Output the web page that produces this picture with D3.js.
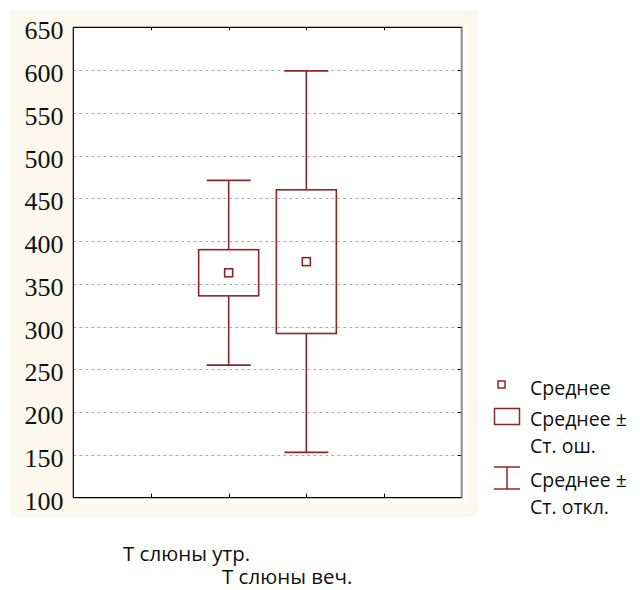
<!DOCTYPE html>
<html><head><meta charset="utf-8">
<script src="https://cdn.jsdelivr.net/npm/d3@7"></script>
<style>html,body{margin:0;padding:0;background:#fff;}svg{display:block;}</style>
</head><body>
<svg id="c" width="640" height="590"></svg>
<script>
const categories = ["Т слюны утр.", "Т слюны веч."];
const means = [363, 376];
const stdErrors = [27, 84];
const stdDevs = [108, 223];
const yTicks = [100, 150, 200, 250, 300, 350, 400, 450, 500, 550, 600, 650];
const legendLabels = [["Среднее"], ["Среднее ±", "Ст. ош."], ["Среднее ±", "Ст. откл."]];

const svg = d3.select("#c");
const red = "#8b2626";
const L = 73.3, R = 461.7, T = 27.3, B = 497.7;

svg.append("rect").attr("x", 10).attr("y", 10).attr("width", 468).attr("height", 507).attr("fill", "#fdf8ee");
svg.append("rect").attr("x", L).attr("y", T).attr("width", R - L + 6).attr("height", B - T + 5).attr("fill", "#fff");

const y = d3.scaleLinear().domain([100, 650]).range([B, T]);
const x = d3.scaleLinear().domain([0, 5]).range([L, R]);
const xPos = i => x(i + 2);

const inner = yTicks.filter(d => d > 100 && d < 650);
svg.append("g").selectAll("line").data(inner).join("line")
  .attr("x1", L).attr("x2", R).attr("y1", d => Math.round(y(d)) + 0.5).attr("y2", d => Math.round(y(d)) + 0.5)
  .attr("stroke", "#aaa").attr("stroke-dasharray", "3,3").attr("stroke-width", 1);

svg.append("g").selectAll("line").data(inner).join("line")
  .attr("x1", R - 4).attr("x2", R).attr("y1", d => Math.round(y(d)) + 0.5).attr("y2", d => Math.round(y(d)) + 0.5)
  .attr("stroke", "#000").attr("stroke-width", 1);

const xt = [1, 2, 3, 4];
svg.append("g").selectAll("line").data(xt).join("line")
  .attr("x1", d => Math.round(x(d)) + 0.5).attr("x2", d => Math.round(x(d)) + 0.5)
  .attr("y1", B - 4).attr("y2", B).attr("stroke", "#000");
svg.append("g").selectAll("line").data(xt).join("line")
  .attr("x1", d => Math.round(x(d)) + 0.5).attr("x2", d => Math.round(x(d)) + 0.5)
  .attr("y1", T).attr("y2", T + 3).attr("stroke", "#000");

svg.append("line").attr("x1", R).attr("x2", R).attr("y1", T).attr("y2", B).attr("stroke", "#888").attr("stroke-width", 2);
svg.append("line").attr("x1", L).attr("x2", L).attr("y1", T).attr("y2", B).attr("stroke", "#000").attr("stroke-width", 1.2);
svg.append("line").attr("x1", L).attr("x2", R).attr("y1", T).attr("y2", T).attr("stroke", "#000").attr("stroke-width", 1.2);
svg.append("line").attr("x1", L).attr("x2", R).attr("y1", B).attr("y2", B).attr("stroke", "#000").attr("stroke-width", 1.2);

svg.append("g").selectAll("text").data(yTicks).join("text")
  .attr("x", 63.5).attr("y", d => y(d) + 12).attr("text-anchor", "end")
  .attr("font-family", "'Liberation Serif','Times New Roman',serif").attr("font-size", 26)
  .attr("fill", "#111").text(d => d);

const g = svg.append("g").attr("fill", "none").attr("stroke", red).attr("stroke-width", 1.6);
categories.forEach((c, i) => {
  const cx = xPos(i), m = means[i], se = stdErrors[i], sd = stdDevs[i];
  g.append("line").attr("x1", cx).attr("x2", cx).attr("y1", y(m + sd)).attr("y2", y(m + se));
  g.append("line").attr("x1", cx).attr("x2", cx).attr("y1", y(m - se)).attr("y2", y(m - sd));
  g.append("line").attr("x1", cx - 22).attr("x2", cx + 22).attr("y1", y(m + sd)).attr("y2", y(m + sd));
  g.append("line").attr("x1", cx - 22).attr("x2", cx + 22).attr("y1", y(m - sd)).attr("y2", y(m - sd));
  g.append("rect").attr("x", cx - 30).attr("width", 60).attr("y", y(m + se)).attr("height", y(m - se) - y(m + se));
  g.append("rect").attr("x", cx - 4).attr("width", 8).attr("y", y(m) - 4).attr("height", 8);
});

const xl = [{x: 123, y: 561}, {x: 222, y: 584}];
svg.append("g").selectAll("text").data(categories).join("text")
  .attr("x", (d, i) => xl[i].x).attr("y", (d, i) => xl[i].y)
  .attr("font-family", "'Open Sans','Noto Sans',sans-serif").attr("font-size", 20.5)
  .attr("fill", "#111").text(d => d);

const lg = svg.append("g").attr("fill", "none").attr("stroke", red).attr("stroke-width", 1.5);
lg.append("rect").attr("x", 498).attr("y", 381).attr("width", 7).attr("height", 7);
lg.append("rect").attr("x", 494.5).attr("y", 408.5).attr("width", 25).attr("height", 16);
lg.append("line").attr("x1", 494).attr("x2", 520).attr("y1", 467).attr("y2", 467);
lg.append("line").attr("x1", 507).attr("x2", 507).attr("y1", 467).attr("y2", 489);
lg.append("line").attr("x1", 494).attr("x2", 520).attr("y1", 489).attr("y2", 489);
const lBase = [[395], [426, 453], [487, 514]];
legendLabels.forEach((lines, i) => {
  lines.forEach((t, j) => {
    svg.append("text").attr("x", 530).attr("y", lBase[i][j])
      .attr("font-family", "'Open Sans','Noto Sans',sans-serif").attr("font-size", 19.5)
      .attr("fill", "#111").text(t);
  });
});
</script>
</body></html>
